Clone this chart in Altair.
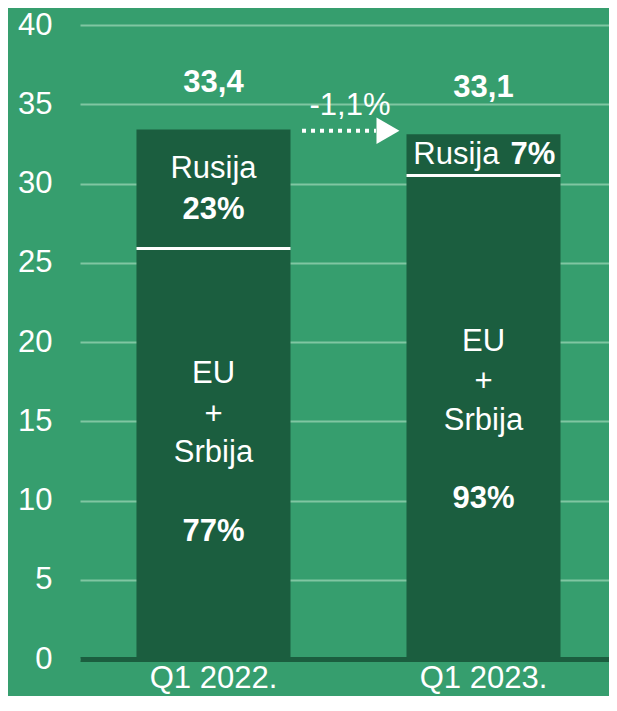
import altair as alt
import pandas as pd

# ---- data ----
periods = ["Q1 2022.", "Q1 2023."]
totals = [33.4, 33.1]
eu_srbija = [25.9, 30.5]          # lower (EU + Srbija) segment
total_labels = ["33,4", "33,1"]
change_label = "-1,1%"

# text annotations (data units on the y axis)
reg_period = ["Q1 2022.", "Q1 2022.", "Q1 2022.", "Q1 2022.", "Q1 2023.", "Q1 2023.", "Q1 2023."]
reg_text = ["Rusija", "EU", "+", "Srbija", "EU", "+", "Srbija"]
reg_y = [30.92, 17.98, 15.39, 13.0, 20.0, 17.48, 15.02]

bold_period = ["Q1 2022.", "Q1 2022.", "Q1 2023."]
bold_text = ["23%", "77%", "93%"]
bold_y = [28.33, 8.01, 10.09]

# arrow annotation: fractions of the plot width
arrow_start = [0.4197]
arrow_end = [0.5595]
arrow_head_pos = [0.5822]
change_pos = [0.5104]
arrow_y = [33.33]
change_y = [34.9]

BG = "#369e6e"
DARK = "#1b5e3f"
GRID = "#80c6a2"
FONT = "Liberation Sans"
FS = 31

rusija = [round(t - e, 2) for t, e in zip(totals, eu_srbija)]
seg = pd.DataFrame({
    "period": periods * 2,
    "part": ["EU + Srbija"] * 2 + ["Rusija"] * 2,
    "ord": [0, 0, 1, 1],
    "value": eu_srbija + rusija,
})

xscale = alt.Scale(domain=periods, paddingInner=0.4296, paddingOuter=0.1944, align=0.538)
xaxis = alt.Axis(labelAngle=0, ticks=False, domain=True, domainColor=DARK, domainWidth=5,
                 labelFont=FONT, labelFontSize=FS, labelColor="white", labelPadding=4,
                 grid=False)
yscale = alt.Scale(domain=[0, 40])
yaxis = alt.Axis(values=list(range(0, 41, 5)), ticks=False, domain=False, grid=True,
                 gridColor=GRID, gridWidth=2, labelFont=FONT, labelFontSize=FS,
                 labelColor="white", labelPadding=28)


def X(field, **kw):
    return alt.X(field, type="nominal", title=None, scale=xscale, axis=xaxis, **kw)


def Y(field, **kw):
    return alt.Y(field, type="quantitative", title=None, scale=yscale, axis=yaxis, **kw)


bars = alt.Chart(seg).mark_bar(color=DARK).encode(
    x=X("period"), y=Y("value", stack="zero"), order=alt.Order("ord:Q")
)

div = pd.DataFrame({"period": periods, "y": eu_srbija})
divider = alt.Chart(div).mark_tick(color="white", thickness=3, size=154, opacity=1).encode(
    x=X("period"), y=Y("y")
)

tot = pd.DataFrame({"period": periods, "y": [t + 2.95 for t in totals], "t": total_labels})
tot_text = alt.Chart(tot).mark_text(font=FONT, fontSize=FS, fontWeight="bold", color="white",
                                    baseline="middle").encode(x=X("period"), y=Y("y"), text="t:N")

reg = pd.DataFrame({"period": reg_period, "y": reg_y, "t": reg_text})
reg_layer = alt.Chart(reg).mark_text(font=FONT, fontSize=FS, color="white",
                                     baseline="middle").encode(x=X("period"), y=Y("y"), text="t:N")

bold = pd.DataFrame({"period": bold_period, "y": bold_y, "t": bold_text})
bold_layer = alt.Chart(bold).mark_text(font=FONT, fontSize=FS, fontWeight="bold", color="white",
                                       baseline="middle").encode(x=X("period"), y=Y("y"), text="t:N")

r7 = pd.DataFrame({"period": ["Q1 2023."], "y": [31.8], "a": ["Rusija"], "b": ["7%"]})
r7a = alt.Chart(r7).mark_text(font=FONT, fontSize=FS, color="white", align="right", dx=16,
                              baseline="middle").encode(x=X("period"), y=Y("y"), text="a:N")
r7b = alt.Chart(r7).mark_text(font=FONT, fontSize=FS, fontWeight="bold", color="white",
                              align="left", dx=27, baseline="middle").encode(
    x=X("period"), y=Y("y"), text="b:N")

main = alt.layer(bars, divider, tot_text, reg_layer, bold_layer, r7a, r7b)

# annotation layer with its own (hidden) x scale spanning the plot width
ax = alt.Scale(domain=[0, 1])
arrow_df = pd.DataFrame({"x0": arrow_start, "x1": arrow_end, "y": arrow_y})
head_df = pd.DataFrame({"x": arrow_head_pos, "y": arrow_y})
chg_df = pd.DataFrame({"x": change_pos, "y": change_y, "t": [change_label]})

arrow_line = alt.Chart(arrow_df).mark_rule(color="white", strokeWidth=4, strokeDash=[4, 5]).encode(
    x=alt.X("x0:Q", scale=ax, axis=None), x2="x1:Q", y=Y("y")
)
arrow_head = alt.Chart(head_df).mark_point(shape="triangle-right", filled=True, color="white",
                                           opacity=1, size=700).encode(
    x=alt.X("x:Q", scale=ax, axis=None), y=Y("y")
)
change_text = alt.Chart(chg_df).mark_text(font=FONT, fontSize=FS, color="white",
                                          baseline="middle").encode(
    x=alt.X("x:Q", scale=ax, axis=None), y=Y("y"), text="t:N"
)
ann = alt.layer(arrow_line, arrow_head, change_text)

chart = alt.layer(main, ann).resolve_scale(x="independent").properties(
    width=529, height=634,
    padding={"left": 72, "top": 17, "right": 0, "bottom": 37},
    autosize=alt.AutoSizeParams(type="none"),
    background=BG,
).configure_view(stroke=None)

chart.save("out.html", embed_options={"renderer": "svg", "actions": False})
